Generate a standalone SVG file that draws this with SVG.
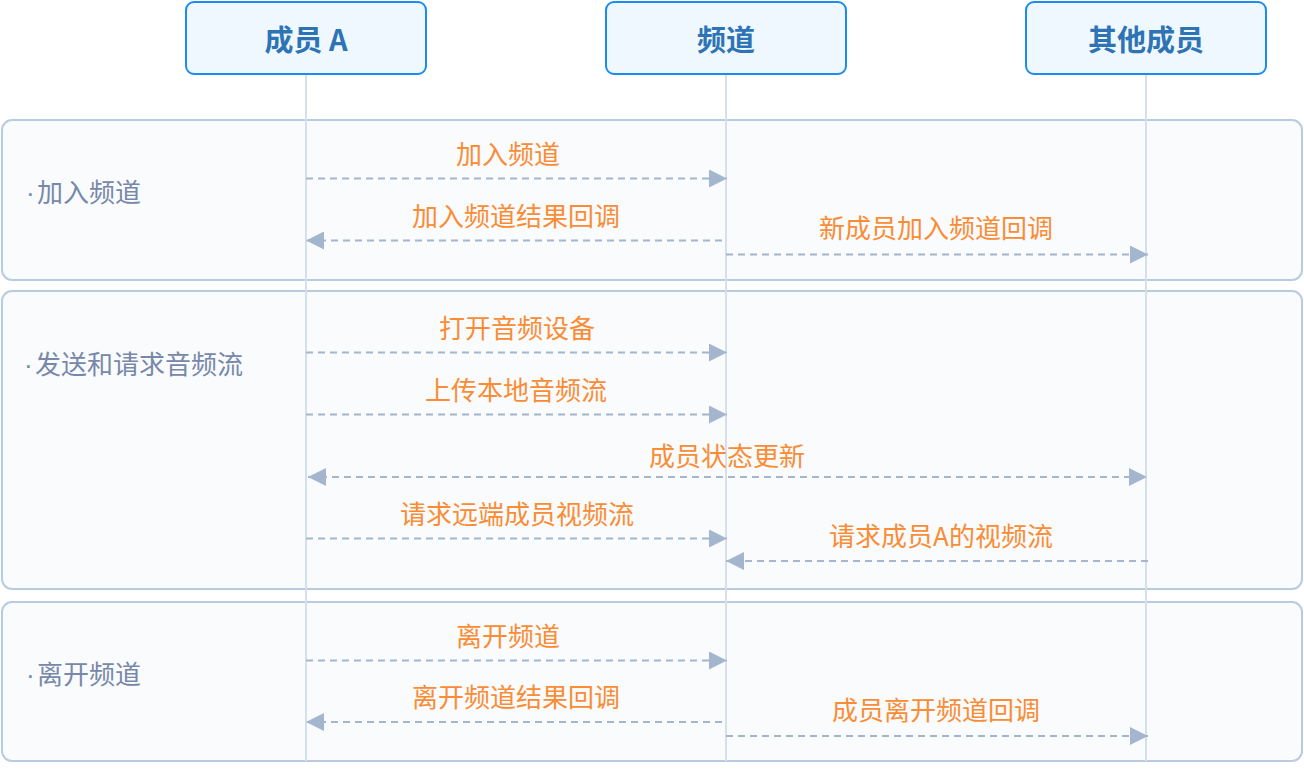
<svg xmlns="http://www.w3.org/2000/svg" width="1304" height="774" viewBox="0 0 1304 774">
  <style>
    .sec { fill: #f9fbfc; stroke: #b9cbe1; stroke-width: 2; }
    .head rect { fill: #f0f8ff; stroke: #1a8cf2; stroke-width: 2; }
    .head text { font-family: "Noto Sans CJK SC", "Noto Sans", sans-serif; font-size: 29px; font-weight: bold; fill: #2e74b5; text-anchor: middle; }
    .life { stroke: #d6e0ed; stroke-width: 2; }
    .msg { stroke: #a3b6cd; stroke-width: 2; stroke-dasharray: 7 5; fill: none; }
    .lbl { font-family: "Noto Sans CJK SC", "Noto Sans", sans-serif; font-size: 26px; fill: #fa8c35; text-anchor: middle; }
    .seclbl { font-family: "Noto Sans CJK SC", "Noto Sans", sans-serif; font-size: 26px; fill: #7788aa; }
    .dot { font-family: "Liberation Sans", sans-serif; }
  </style>
  <defs>
    <marker id="arrEnd" markerUnits="userSpaceOnUse" markerWidth="18" markerHeight="18" viewBox="0 0 17 17" refX="17" refY="8.5" orient="auto">
      <path d="M0,0 L17,8.5 L0,17 Z" fill="#a3b6cd"/>
    </marker>
    <marker id="arrStart" markerUnits="userSpaceOnUse" markerWidth="18" markerHeight="18" viewBox="0 0 17 17" refX="0" refY="8.5" orient="auto">
      <path d="M17,0 L0,8.5 L17,17 Z" fill="#a3b6cd"/>
    </marker>
  </defs>

  <g id="sections">
    <g id="sec-join">
      <rect class="sec" x="2" y="120" width="1300" height="160" rx="10"/>
      <text class="seclbl" y="202"><tspan class="dot" x="26">·</tspan><tspan x="37">加入频道</tspan></text>
    </g>
    <g id="sec-stream">
      <rect class="sec" x="2" y="291" width="1300" height="298" rx="10"/>
      <text class="seclbl" y="374"><tspan class="dot" x="24">·</tspan><tspan x="35">发送和请求音频流</tspan></text>
    </g>
    <g id="sec-leave">
      <rect class="sec" x="2" y="602" width="1300" height="159" rx="10"/>
      <text class="seclbl" y="684"><tspan class="dot" x="26">·</tspan><tspan x="37">离开频道</tspan></text>
    </g>
  </g>

  <g id="lifelines">
    <line class="life" x1="306" y1="74" x2="306" y2="761"/>
    <line class="life" x1="726" y1="74" x2="726" y2="761"/>
    <line class="life" x1="1146" y1="74" x2="1146" y2="761"/>
  </g>

  <g id="node-memberA" class="head">
    <rect x="186" y="2" width="240" height="72" rx="8"/>
    <text x="306" y="51">成员 A</text>
  </g>
  <g id="node-channel" class="head">
    <rect x="606" y="2" width="240" height="72" rx="8"/>
    <text x="726" y="51">频道</text>
  </g>
  <g id="node-others" class="head">
    <rect x="1026" y="2" width="240" height="72" rx="8"/>
    <text x="1146" y="51">其他成员</text>
  </g>

  <g id="connectors">
    <line class="msg" x1="306" y1="178.5" x2="727" y2="178.5" marker-end="url(#arrEnd)"/>
    <line class="msg" x1="722" y1="240.5" x2="306" y2="240.5" marker-end="url(#arrEnd)"/>
    <line class="msg" x1="726" y1="254.5" x2="1148" y2="254.5" marker-end="url(#arrEnd)"/>
    <line class="msg" x1="306" y1="352.5" x2="727" y2="352.5" marker-end="url(#arrEnd)"/>
    <line class="msg" x1="306" y1="414.5" x2="727" y2="414.5" marker-end="url(#arrEnd)"/>
    <line class="msg" x1="308" y1="477" x2="1147" y2="477" marker-start="url(#arrStart)" marker-end="url(#arrEnd)"/>
    <line class="msg" x1="306" y1="538.5" x2="727" y2="538.5" marker-end="url(#arrEnd)"/>
    <line class="msg" x1="1148" y1="561" x2="726" y2="561" marker-end="url(#arrEnd)"/>
    <line class="msg" x1="306" y1="660.5" x2="727" y2="660.5" marker-end="url(#arrEnd)"/>
    <line class="msg" x1="722" y1="722" x2="306" y2="722" marker-end="url(#arrEnd)"/>
    <line class="msg" x1="726" y1="736" x2="1148" y2="736" marker-end="url(#arrEnd)"/>
  </g>

  <g id="labels">
    <text class="lbl" x="508" y="164">加入频道</text>
    <text class="lbl" x="516" y="226">加入频道结果回调</text>
    <text class="lbl" x="936" y="238">新成员加入频道回调</text>
    <text class="lbl" x="517" y="338">打开音频设备</text>
    <text class="lbl" x="516" y="400">上传本地音频流</text>
    <text class="lbl" x="727" y="466">成员状态更新</text>
    <text class="lbl" x="517" y="524">请求远端成员视频流</text>
    <text class="lbl" x="941" y="546">请求成员A的视频流</text>
    <text class="lbl" x="508" y="646">离开频道</text>
    <text class="lbl" x="516" y="707">离开频道结果回调</text>
    <text class="lbl" x="936" y="720">成员离开频道回调</text>
  </g>
</svg>
